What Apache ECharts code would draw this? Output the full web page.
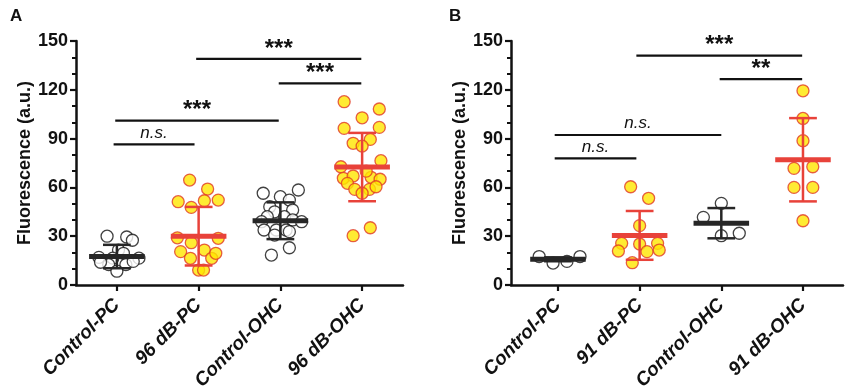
<!DOCTYPE html>
<html>
<head>
<meta charset="utf-8">
<script src="https://cdn.jsdelivr.net/npm/echarts@6/dist/echarts.min.js"></script>
<style>
html,body{margin:0;padding:0;background:#fff;}
#chart{width:850px;height:392px;}
</style>
</head>
<body>
<div id="chart"></div>
<script>
// ---------- DATA ----------
const categoriesA = ['Control-PC', '96 dB-PC', 'Control-OHC', '96 dB-OHC'];
const categoriesB = ['Control-PC', '91 dB-PC', 'Control-OHC', '91 dB-OHC'];
const yTickValues = [0, 30, 60, 90, 120, 150];

// individual values per group (panel A)
const valuesA = [
  [30, 29.5, 27.5, 21.5, 19.5, 17, 16.5, 16.5, 12.5, 12.5, 14.5, 14, 8.5],
  [64.5, 59, 51.2, 47.7, 51.8, 52.2, 29, 26, 28.7, 20.5, 16.4, 21.5, 16.4, 19.5, 9.2, 9.2],
  [56.4, 54.3, 52.2, 58.4, 48.1, 45, 46.1, 42, 42, 40, 38.9, 38.9, 33.8, 33.8, 33.8, 30.7, 32.8, 22.9, 18.4],
  [112.7, 108.2, 102.8, 96.3, 96.9, 87.1, 89.5, 85.4, 76.4, 72.7, 65.6, 67, 62.5, 66.2, 65, 58.8, 58.8, 60.4, 56.4, 35.2, 30.3, 70]
];
// horizontal scatter (jitter, in category widths)
const jitterA = [
  [-0.12, 0.12, 0.19, 0.02, 0.08, -0.22, -0.05, 0.27, -0.1, 0.11, 0.2, -0.2, 0],
  [-0.11, 0.11, -0.25, -0.09, 0.07, 0.24, -0.26, -0.09, 0.24, -0.22, -0.1, 0.07, 0.16, 0.21, 0, 0.06],
  [-0.21, 0, 0.11, 0.22, -0.13, -0.07, 0.15, -0.16, 0.05, 0.15, -0.23, 0.26, -0.2, -0.05, 0.07, -0.07, 0.11, 0.11, -0.11],
  [-0.22, 0.21, 0, -0.22, 0.21, -0.11, 0.1, 0, 0.23, -0.26, -0.23, -0.11, -0.18, 0.11, 0.22, -0.09, 0.09, 0.17, 0, 0.1, -0.11, 0.05]
];
const meanA = [17.5, 30, 39.5, 72.5];
const sdA = [7.2, 18, 11.3, 21];

// panel B
const valuesB = [
  [17.5, 13.5, 14.5, 17.5],
  [60.4, 53.3, 36.5, 25.6, 20.9, 25.2, 20.5, 25.6, 21.5, 13.7],
  [50.2, 41.6, 30.3, 31.8],
  [119.4, 102.4, 88.7, 71.7, 72.7, 60, 60, 39.5]
];
const jitterB = [
  [-0.23, -0.06, 0.11, 0.27],
  [-0.11, 0.11, 0, -0.22, -0.26, 0, 0.09, 0.22, 0.24, -0.09],
  [0, -0.22, 0, 0.22],
  [0, 0, 0, -0.11, 0.12, -0.11, 0.12, 0]
];
const meanB = [15.8, 30.5, 38, 77];
const sdB = [1.2, 15, 9.3, 25.6];

// significance brackets: [fromGroup, toGroup, height]
const bracketsA = [[-0.04, 0.95, 86.5], [-0.02, 1.98, 101], [1.98, 2.99, 124], [0.97, 2.99, 139]];
const bracketLabelsA = ['n.s.', '***', '***', '***'];
const bracketsB = [[-0.04, 0.96, 77.9], [-0.04, 2.0, 92.2], [1.98, 2.99, 126.6], [0.96, 2.99, 141]];
const bracketLabelsB = ['n.s.', 'n.s.', '**', '***'];

// ---------- STYLE ----------
const BLACK = '#111';
const DARK = '#262626';
const RED = '#e8423a';
const YELLOW = '#ffe600';
const FONT = 'Liberation Sans, Arial, sans-serif';

function pointsFor(values, jitter, groups) {
  const out = [];
  groups.forEach(g => values[g].forEach((v, i) => out.push([g + jitter[g][i], v])));
  return out;
}

function errorSeries(gi, means, sds) {
  return {
    type: 'custom', xAxisIndex: gi, yAxisIndex: gi, z: 5, silent: true,
    data: means.map((m, i) => [i, m, sds[i]]),
    encode: { x: 0, y: 1 },
    renderItem: function (params, api) {
      const x = api.value(0), m = api.value(1), s = api.value(2);
      const c = api.coord([x, m]);
      const t = api.coord([x, m + s]);
      const b = api.coord([x, m - s]);
      const hw = api.size([0.34, 0])[0];
      const cw = api.size([0.17, 0])[0];
      const col = (x % 2 === 0) ? DARK : RED;
      const ls = { stroke: col, lineWidth: 2.5 };
      return {
        type: 'group',
        children: [
          { type: 'line', shape: { x1: c[0], y1: t[1], x2: c[0], y2: b[1] }, style: ls },
          { type: 'line', shape: { x1: c[0] - cw, y1: t[1], x2: c[0] + cw, y2: t[1] }, style: ls },
          { type: 'line', shape: { x1: c[0] - cw, y1: b[1], x2: c[0] + cw, y2: b[1] }, style: ls },
          { type: 'line', shape: { x1: c[0] - hw, y1: c[1], x2: c[0] + hw, y2: c[1] }, style: { stroke: col, lineWidth: 5 } }
        ]
      };
    }
  };
}

function bracketSeries(gi, brackets, labels) {
  return {
    type: 'custom', xAxisIndex: gi, yAxisIndex: gi, z: 6, silent: true,
    data: brackets,
    encode: { x: [0, 1], y: 2 },
    renderItem: function (params, api) {
      const p1 = api.coord([api.value(0), api.value(2)]);
      const p2 = api.coord([api.value(1), api.value(2)]);
      const lab = labels[params.dataIndex];
      const ns = lab === 'n.s.';
      return {
        type: 'group',
        children: [
          { type: 'line', shape: { x1: p1[0], y1: p1[1], x2: p2[0], y2: p2[1] }, style: { stroke: BLACK, lineWidth: 2.2 } },
          {
            type: 'text',
            style: {
              text: lab, x: (p1[0] + p2[0]) / 2, y: ns ? p1[1] - 3 : p1[1] + 2,
              align: 'center', verticalAlign: 'bottom',
              fontFamily: FONT, fontSize: ns ? 17 : 24, fontStyle: ns ? 'italic' : 'normal',
              fontWeight: ns ? 'normal' : 'bold', fill: BLACK
            }
          }
        ]
      };
    }
  };
}

function xAxisFor(gi, cats, min, max) {
  return {
    gridIndex: gi, type: 'value', min: min, max: max,
    axisLine: { show: true, onZero: false, lineStyle: { color: BLACK, width: 2.5 } },
    axisTick: { show: true, customValues: [0, 1, 2, 3], length: 6, lineStyle: { color: BLACK, width: 2.2 } },
    axisLabel: {
      customValues: [0, 1, 2, 3], formatter: v => cats[Math.round(v)],
      rotate: 45, margin: 17, color: BLACK, fontFamily: FONT,
      fontSize: 19, fontWeight: 'bold', fontStyle: 'italic'
    },
    splitLine: { show: false }
  };
}

function yAxisFor(gi) {
  return {
    gridIndex: gi, type: 'value', min: yTickValues[0], max: yTickValues[yTickValues.length - 1], interval: 30,
    name: 'Fluorescence (a.u.)', nameLocation: 'middle', nameGap: 42, nameRotate: 90,
    nameTextStyle: { fontFamily: FONT, fontSize: 18, fontWeight: 'bold', color: BLACK },
    axisLine: { show: true, onZero: false, lineStyle: { color: BLACK, width: 2.5 } },
    axisTick: { show: true, length: 6, lineStyle: { color: BLACK, width: 2.2 } },
    minorTick: { show: true, splitNumber: 3, length: 4, lineStyle: { color: BLACK, width: 2 } },
    axisLabel: { margin: 8, color: BLACK, fontFamily: FONT, fontSize: 18, fontWeight: 'bold' },
    splitLine: { show: false }, minorSplitLine: { show: false }
  };
}

const openSym = { color: '#fff', borderColor: BLACK, borderWidth: 1.3 };
const fillSym = { color: YELLOW, borderColor: '#e03a26', borderWidth: 1.3 };

const option = {
  backgroundColor: '#fff',
  animation: false,
  title: [
    { text: 'A', left: 5, top: 3, textStyle: { fontFamily: FONT, fontSize: 17, fontWeight: 'bold', color: BLACK } },
    { text: 'B', left: 444, top: 3, textStyle: { fontFamily: FONT, fontSize: 17, fontWeight: 'bold', color: BLACK } }
  ],
  grid: [
    { left: 76, top: 41, width: 327, height: 244, containLabel: false, outerBoundsMode: 'none' },
    { left: 511, top: 41, width: 332, height: 244, containLabel: false, outerBoundsMode: 'none' }
  ],
  xAxis: [xAxisFor(0, categoriesA, -0.5, 3.5), xAxisFor(1, categoriesB, -0.575, 3.49)],
  yAxis: [yAxisFor(0), yAxisFor(1)],
  series: [
    { type: 'scatter', xAxisIndex: 0, yAxisIndex: 0, symbolSize: 12, z: 2, itemStyle: openSym, data: pointsFor(valuesA, jitterA, [0, 2]) },
    { type: 'scatter', xAxisIndex: 0, yAxisIndex: 0, symbolSize: 12, z: 2, itemStyle: fillSym, data: pointsFor(valuesA, jitterA, [1, 3]) },
    { type: 'scatter', xAxisIndex: 1, yAxisIndex: 1, symbolSize: 12, z: 2, itemStyle: openSym, data: pointsFor(valuesB, jitterB, [0, 2]) },
    { type: 'scatter', xAxisIndex: 1, yAxisIndex: 1, symbolSize: 12, z: 2, itemStyle: fillSym, data: pointsFor(valuesB, jitterB, [1, 3]) },
    errorSeries(0, meanA, sdA),
    errorSeries(1, meanB, sdB),
    bracketSeries(0, bracketsA, bracketLabelsA),
    bracketSeries(1, bracketsB, bracketLabelsB)
  ]
};

const chart = echarts.init(document.getElementById('chart'), null, { renderer: 'canvas' });
chart.setOption(option);
</script>
</body>
</html>
